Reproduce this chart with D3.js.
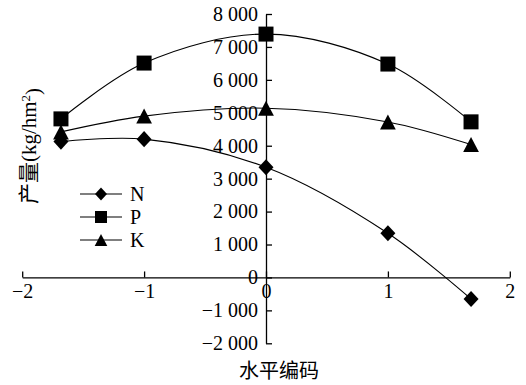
<!DOCTYPE html>
<html>
<head>
<meta charset="utf-8">
<script src="https://cdn.jsdelivr.net/npm/d3@7"></script>
<style>
  html, body { margin: 0; padding: 0; background: #fff; }
  svg { display: block; }
  text { font-family: "Liberation Serif", "Times New Roman", "Noto Sans CJK SC", serif; fill: #000; }
</style>
</head>
<body>
<svg id="chart" width="526" height="385"></svg>
<script>
// ---- data ----
const levels = [-1.682, -1, 0, 1, 1.682];
const seriesNames = ["N", "P", "K"];
const valuesN = [4125, 4200, 3345, 1340, -655];
const valuesP = [4815, 6510, 7390, 6480, 4725];
const valuesK = [4420, 4900, 5140, 4722, 4035];
const xTicks = [-2, -1, 0, 1, 2];
const yTicks = [-2000, -1000, 0, 1000, 2000, 3000, 4000, 5000, 6000, 7000, 8000];
const xTitle = "水平编码";
const yTitle = "产量(kg/hm";

const series = [
  { name: "K", values: valuesK, shape: "triangle" },
  { name: "P", values: valuesP, shape: "square" },
  { name: "N", values: valuesN, shape: "diamond" }
];

const svg = d3.select("#chart");
const x = d3.scaleLinear().domain([-2, 2]).range([22.2, 509.8]);
const y = d3.scaleLinear().domain([-2000, 8000]).range([343.3, 14]);

const loc = d3.formatLocale({ decimal: ".", thousands: " ", grouping: [3], currency: ["", ""], minus: "\u2212" });
const fmt = loc.format(",");

// shapes
function shapePath(shape, s) {
  if (shape === "square") return `M${-s},${-s}H${s}V${s}H${-s}Z`;
  if (shape === "diamond") return `M0,${-s * 1.07}L${s},0L0,${s * 1.07}L${-s},0Z`;
  return `M0,${-s}L${s * 1.05},${s}L${-s * 1.05},${s}Z`;
}

// axes
const yAxis = d3.axisLeft(y).tickValues(yTicks).tickFormat(fmt)
  .tickSizeInner(-6).tickSizeOuter(0).tickPadding(8);
const gy = svg.append("g").attr("transform", `translate(${x(0)},0)`).call(yAxis);

const xAxis = d3.axisBottom(x).tickValues(xTicks).tickFormat(d => fmt(d))
  .tickSizeInner(-6).tickSizeOuter(0).tickPadding(6);
const gx = svg.append("g").attr("transform", `translate(0,${y(0)})`).call(xAxis);

[gx, gy].forEach(g => {
  g.selectAll("path.domain").attr("stroke", "#000").attr("stroke-width", 1.3);
  g.selectAll("line").attr("stroke", "#000").attr("stroke-width", 1.3);
  g.selectAll("text").style("font-size", "20px").attr("font-family", null);
});

// lines
const line = d3.line().x((d, i) => x(levels[i])).y(d => y(d)).curve(d3.curveCatmullRom.alpha(0.5));
series.forEach(s => {
  svg.append("path").attr("d", line(s.values))
    .attr("fill", "none").attr("stroke", "#000").attr("stroke-width", 1.1);
});
// markers
series.forEach(s => {
  svg.append("g").selectAll("path").data(s.values).join("path")
    .attr("transform", (d, i) => `translate(${x(levels[i])},${y(d)})`)
    .attr("d", shapePath(s.shape, 7.5))
    .attr("fill", "#000");
});

// legend
const legend = [
  { name: "N", shape: "diamond", y: 194 },
  { name: "P", shape: "square", y: 217 },
  { name: "K", shape: "triangle", y: 240 }
];
legend.forEach(l => {
  svg.append("line").attr("x1", 80).attr("x2", 122).attr("y1", l.y).attr("y2", l.y)
    .attr("stroke", "#000").attr("stroke-width", 1.1);
  svg.append("path").attr("transform", `translate(101,${l.y})`)
    .attr("d", shapePath(l.shape, 6)).attr("fill", "#000");
  svg.append("text").attr("x", 130).attr("y", l.y).attr("dy", "0.35em")
    .style("font-size", "20px").text(l.name);
});

// titles
svg.append("text").attr("x", 279).attr("y", 378).attr("text-anchor", "middle")
  .style("font-size", "20px").text(xTitle);
const yt = svg.append("text").attr("transform", "translate(36,146) rotate(-90)")
  .attr("text-anchor", "middle").style("font-size", "21px");
yt.append("tspan").text(yTitle);
yt.append("tspan").attr("dy", "-0.45em").style("font-size", "13px").text("2");
yt.append("tspan").attr("dy", "0.45em").text(")");
</script>
</body>
</html>
